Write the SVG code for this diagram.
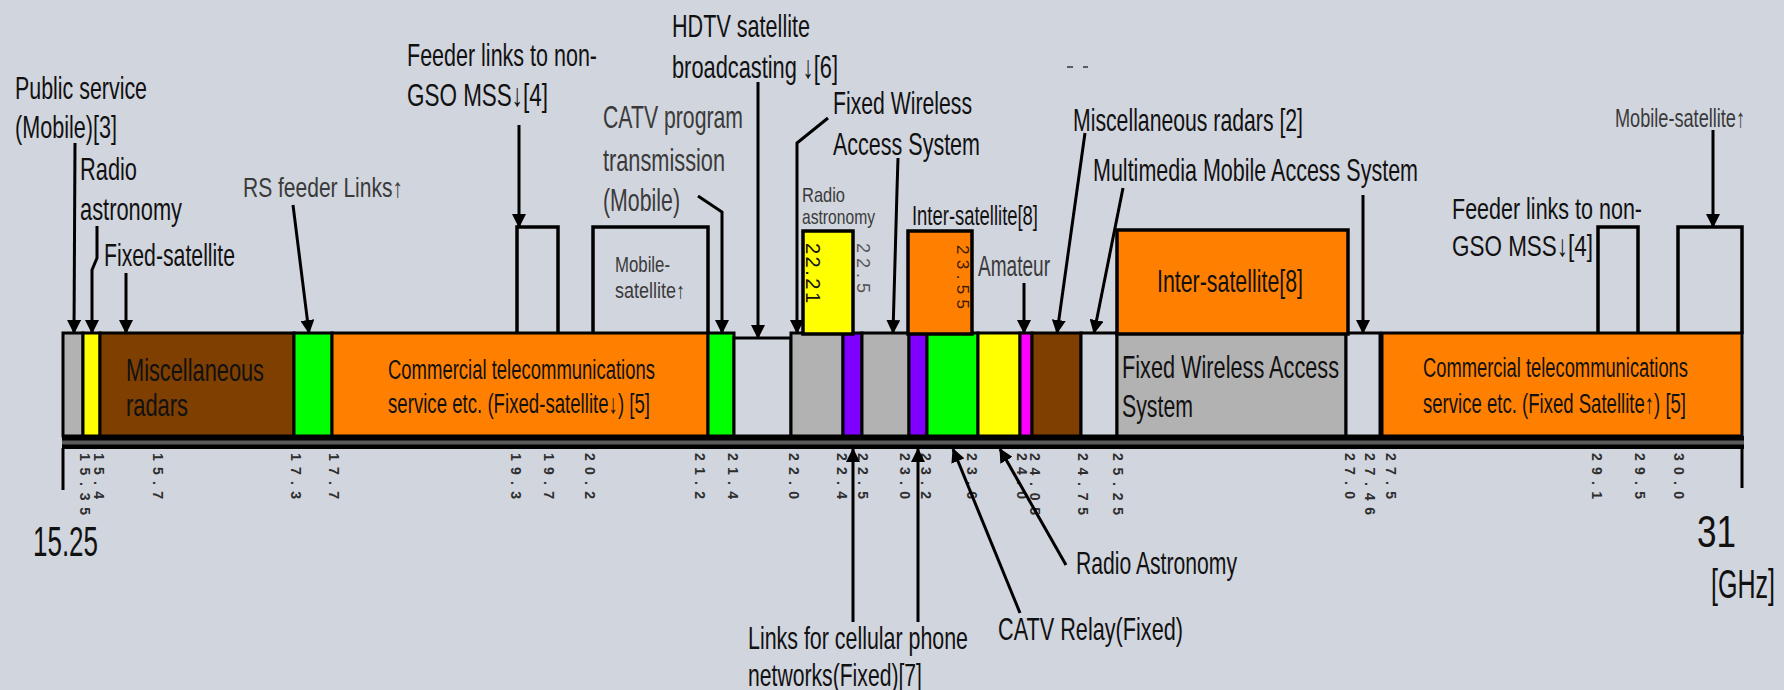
<svg xmlns="http://www.w3.org/2000/svg" width="1784" height="690" viewBox="0 0 1784 690">
  <style>
    text { font-family: 'Liberation Sans', Arial, sans-serif; fill: #111; }
    .l { font-size: 32px; }
    .m { font-size: 27px; }
    .s { font-size: 22px; }
    .g { fill: #3a3a3a; }
    .tick { font-size: 14px; font-weight: bold; fill: #2e2e2e; }
    .seg { stroke: #000; stroke-width: 3; }
    .box { fill: none; stroke: #000; stroke-width: 3.5; }
    .fbox { stroke: #000; stroke-width: 3.5; }
    .con { fill: none; stroke: #000; stroke-width: 3; }
    .arr { marker-end: url(#ah); }
  </style>
  <defs>
    <marker id="ah" viewBox="0 0 14 14" refX="13" refY="7" markerWidth="14" markerHeight="14" markerUnits="userSpaceOnUse" orient="auto">
      <path d="M0,0 L14,7 L0,14 z" fill="#000"/>
    </marker>
  </defs>

  <rect width="1784" height="690" fill="#D1D5DE"/>

  <!-- frequency band, 15.25 to 31 GHz -->
  <g id="band">
    <rect class="seg" x="63" y="333" width="20" height="103" fill="#B2B2B2"/>
    <rect class="seg" x="83" y="333" width="17" height="103" fill="#FFFF00"/>
    <rect class="seg" x="100" y="333" width="194" height="103" fill="#7F3F00"/>
    <rect class="seg" x="294" y="333" width="38" height="103" fill="#00FF00"/>
    <rect class="seg" x="332" y="333" width="376" height="103" fill="#FF8000"/>
    <rect class="seg" x="708" y="333" width="26" height="103" fill="#00FF00"/>
    <rect class="seg" x="734" y="338" width="57" height="98" fill="#D1D5DE"/>
    <rect class="seg" x="791" y="333" width="52" height="103" fill="#B2B2B2"/>
    <rect class="seg" x="843" y="333" width="19" height="103" fill="#7F00FF"/>
    <rect class="seg" x="862" y="333" width="47" height="103" fill="#B2B2B2"/>
    <rect class="seg" x="909" y="333" width="18" height="103" fill="#7F00FF"/>
    <rect class="seg" x="927" y="333" width="51" height="103" fill="#00FF00"/>
    <rect class="seg" x="978" y="333" width="42" height="103" fill="#FFFF00"/>
    <rect class="seg" x="1020" y="333" width="12" height="103" fill="#FF00FF"/>
    <rect class="seg" x="1032" y="333" width="49" height="103" fill="#7F3F00"/>
    <rect class="seg" x="1081" y="333" width="36" height="103" fill="#D1D5DE"/>
    <rect class="seg" x="1117" y="333" width="229" height="103" fill="#B2B2B2"/>
    <rect class="seg" x="1346" y="333" width="34" height="103" fill="#D1D5DE"/>
    <rect class="seg" x="1382" y="333" width="360" height="103" fill="#FF8000"/>
  </g>

  <!-- axis bar and end ticks -->
  <g id="axis">
    <rect x="62" y="436" width="1682" height="13" fill="#000"/>
    <rect x="62" y="440.5" width="1682" height="4" fill="#5A5A5A"/>
    <line x1="63" y1="448" x2="63" y2="490" stroke="#000" stroke-width="3"/>
    <line x1="1742" y1="448" x2="1742" y2="488" stroke="#000" stroke-width="3"/>
    <text transform="translate(33,556) scale(0.65,1)" style="font-size:42px" textLength="100" lengthAdjust="spacingAndGlyphs">15.25</text>
    <text transform="translate(1697,547) scale(0.8,1)" style="font-size:44px" textLength="48.75" lengthAdjust="spacingAndGlyphs">31</text>
    <text transform="translate(1711,598) scale(0.63,1)" style="font-size:40px" textLength="101.6" lengthAdjust="spacingAndGlyphs">[GHz]</text>
  </g>

  <!-- frequency tick labels -->
  <g id="ticks">
    <text class="tick" transform="translate(80,453) rotate(90)" textLength="62" lengthAdjust="spacing">15.35</text>
    <text class="tick" transform="translate(94,453) rotate(90)" textLength="46" lengthAdjust="spacing">15.4</text>
    <text class="tick" transform="translate(153,453) rotate(90)" textLength="46" lengthAdjust="spacing">15.7</text>
    <text class="tick" transform="translate(291,453) rotate(90)" textLength="46" lengthAdjust="spacing">17.3</text>
    <text class="tick" transform="translate(329,453) rotate(90)" textLength="46" lengthAdjust="spacing">17.7</text>
    <text class="tick" transform="translate(511,453) rotate(90)" textLength="46" lengthAdjust="spacing">19.3</text>
    <text class="tick" transform="translate(544,453) rotate(90)" textLength="46" lengthAdjust="spacing">19.7</text>
    <text class="tick" transform="translate(585,453) rotate(90)" textLength="46" lengthAdjust="spacing">20.2</text>
    <text class="tick" transform="translate(695,453) rotate(90)" textLength="46" lengthAdjust="spacing">21.2</text>
    <text class="tick" transform="translate(728,453) rotate(90)" textLength="46" lengthAdjust="spacing">21.4</text>
    <text class="tick" transform="translate(789,453) rotate(90)" textLength="46" lengthAdjust="spacing">22.0</text>
    <text class="tick" transform="translate(837,453) rotate(90)" textLength="46" lengthAdjust="spacing">22.4</text>
    <text class="tick" transform="translate(858,453) rotate(90)" textLength="46" lengthAdjust="spacing">22.5</text>
    <text class="tick" transform="translate(900,453) rotate(90)" textLength="46" lengthAdjust="spacing">23.0</text>
    <text class="tick" transform="translate(921,453) rotate(90)" textLength="46" lengthAdjust="spacing">23.2</text>
    <text class="tick" transform="translate(967,453) rotate(90)" textLength="46" lengthAdjust="spacing">23.6</text>
    <text class="tick" transform="translate(1017,453) rotate(90)" textLength="46" lengthAdjust="spacing">24.0</text>
    <text class="tick" transform="translate(1030,453) rotate(90)" textLength="62" lengthAdjust="spacing">24.05</text>
    <text class="tick" transform="translate(1078,453) rotate(90)" textLength="62" lengthAdjust="spacing">24.75</text>
    <text class="tick" transform="translate(1113,453) rotate(90)" textLength="62" lengthAdjust="spacing">25.25</text>
    <text class="tick" transform="translate(1345,453) rotate(90)" textLength="46" lengthAdjust="spacing">27.0</text>
    <text class="tick" transform="translate(1365,453) rotate(90)" textLength="62" lengthAdjust="spacing">27.46</text>
    <text class="tick" transform="translate(1386,453) rotate(90)" textLength="46" lengthAdjust="spacing">27.5</text>
    <text class="tick" transform="translate(1592,453) rotate(90)" textLength="46" lengthAdjust="spacing">29.1</text>
    <text class="tick" transform="translate(1635,453) rotate(90)" textLength="46" lengthAdjust="spacing">29.5</text>
    <text class="tick" transform="translate(1674,453) rotate(90)" textLength="46" lengthAdjust="spacing">30.0</text>
  </g>

  <!-- allocations shown inside the band -->
  <g id="misc-radars">
    <text class="l" x="126" y="381" textLength="138" lengthAdjust="spacingAndGlyphs">Miscellaneous</text>
    <text class="l" x="126" y="416" textLength="62" lengthAdjust="spacingAndGlyphs">radars</text>
  </g>
  <g id="commercial-down">
    <text class="m" x="388" y="379" textLength="267" lengthAdjust="spacingAndGlyphs">Commercial telecommunications</text>
    <text class="m" x="388" y="413" textLength="262" lengthAdjust="spacingAndGlyphs">service etc. (Fixed-satellite↓) [5]</text>
  </g>
  <g id="fwa">
    <text class="l" x="1122" y="378" textLength="217" lengthAdjust="spacingAndGlyphs">Fixed Wireless Access</text>
    <text class="l" x="1122" y="417" textLength="71" lengthAdjust="spacingAndGlyphs">System</text>
  </g>
  <g id="commercial-up">
    <text class="m" transform="translate(1423,377) scale(0.68,1)" textLength="389.7" lengthAdjust="spacingAndGlyphs">Commercial telecommunications</text>
    <text class="m" transform="translate(1423,413) scale(0.69,1)" textLength="381.2" lengthAdjust="spacingAndGlyphs">service etc. (Fixed Satellite↑) [5]</text>
  </g>

  <!-- raised sub-bands -->
  <g id="feeder-left">
    <path class="box" d="M517,334 V227 H558 V334"/>
  </g>
  <g id="mobile-sat-left">
    <path class="box" d="M593,334 V227 H708 V334"/>
    <text class="s g" x="615" y="272" textLength="55" lengthAdjust="spacingAndGlyphs">Mobile-</text>
    <text class="s g" x="615" y="298" textLength="70" lengthAdjust="spacingAndGlyphs">satellite↑</text>
  </g>
  <g id="radio-astronomy-box">
    <rect class="fbox" x="803" y="231" width="50" height="103" fill="#FFFF00"/>
    <text transform="translate(806,243) rotate(90)" style="font-size:20px" fill="#222" textLength="60" lengthAdjust="spacing">22.21</text>
    <text transform="translate(857,243) rotate(90)" style="font-size:18px;fill:#555" textLength="50" lengthAdjust="spacing">22.5</text>
    <text x="802" y="202" style="font-size:21px" class="g" textLength="43" lengthAdjust="spacingAndGlyphs">Radio</text>
    <text x="802" y="224" style="font-size:21px" class="g" textLength="73" lengthAdjust="spacingAndGlyphs">astronomy</text>
  </g>
  <g id="inter-sat-small">
    <rect class="fbox" x="908" y="231" width="64" height="103" fill="#FF8000"/>
    <text transform="translate(957,245) rotate(90)" style="font-size:17px;fill:#3A1A00" textLength="64" lengthAdjust="spacing">23.55</text>
    <text x="912" y="225" style="font-size:27px" textLength="126" lengthAdjust="spacingAndGlyphs">Inter-satellite[8]</text>
  </g>
  <g id="inter-sat-big">
    <rect class="fbox" x="1117" y="230" width="231" height="104" fill="#FF8000"/>
    <text class="l" x="1157" y="292" textLength="146" lengthAdjust="spacingAndGlyphs">Inter-satellite[8]</text>
  </g>
  <g id="feeder-right">
    <path class="box" d="M1598,334 V227 H1638 V334"/>
    <text class="l" x="1452" y="219" style="font-size:30px" textLength="190" lengthAdjust="spacingAndGlyphs">Feeder links to non-</text>
    <text class="l" x="1452" y="256" style="font-size:30px" textLength="141" lengthAdjust="spacingAndGlyphs">GSO MSS↓[4]</text>
  </g>
  <g id="mobile-sat-right">
    <path class="box" d="M1678,334 V227 H1742 V334"/>
    <text transform="translate(1615,127) scale(0.68,1)" style="font-size:26px" class="g" textLength="191.2" lengthAdjust="spacingAndGlyphs">Mobile-satellite↑</text>
  </g>

  <!-- labels above the band -->
  <g id="public-service">
    <text class="l" x="15" y="99" textLength="132" lengthAdjust="spacingAndGlyphs">Public service</text>
    <text class="l" x="15" y="138" textLength="102" lengthAdjust="spacingAndGlyphs">(Mobile)[3]</text>
  </g>
  <g id="radio-astronomy-low">
    <text class="l" x="80" y="180" textLength="57" lengthAdjust="spacingAndGlyphs">Radio</text>
    <text class="l" x="80" y="220" textLength="102" lengthAdjust="spacingAndGlyphs">astronomy</text>
  </g>
  <g id="fixed-satellite">
    <text class="l" x="104" y="266" textLength="131" lengthAdjust="spacingAndGlyphs">Fixed-satellite</text>
  </g>
  <g id="rs-feeder">
    <text x="243" y="197" style="font-size:27px" class="g" textLength="160" lengthAdjust="spacingAndGlyphs">RS feeder Links↑</text>
  </g>
  <g id="feeder-left-label">
    <text class="l" x="407" y="66" textLength="190" lengthAdjust="spacingAndGlyphs">Feeder links to non-</text>
    <text class="l" x="407" y="106" textLength="141" lengthAdjust="spacingAndGlyphs">GSO MSS↓[4]</text>
  </g>
  <g id="hdtv">
    <text class="l" x="672" y="37" textLength="138" lengthAdjust="spacingAndGlyphs">HDTV satellite</text>
    <text class="l" x="672" y="78" textLength="166" lengthAdjust="spacingAndGlyphs">broadcasting ↓[6]</text>
  </g>
  <g id="catv-program">
    <text class="l g" x="603" y="128" textLength="140" lengthAdjust="spacingAndGlyphs">CATV program</text>
    <text class="l g" x="603" y="171" textLength="122" lengthAdjust="spacingAndGlyphs">transmission</text>
    <text class="l g" x="603" y="211" textLength="77" lengthAdjust="spacingAndGlyphs">(Mobile)</text>
  </g>
  <g id="fwa-label">
    <text class="l" x="833" y="114" textLength="139" lengthAdjust="spacingAndGlyphs">Fixed Wireless</text>
    <text class="l" x="833" y="155" textLength="147" lengthAdjust="spacingAndGlyphs">Access System</text>
  </g>
  <g id="misc-radars-label">
    <text class="l" x="1073" y="131" textLength="230" lengthAdjust="spacingAndGlyphs">Miscellaneous radars [2]</text>
    <line x1="1067" y1="67" x2="1073" y2="67" stroke="#333" stroke-width="1.5"/>
    <line x1="1083" y1="67" x2="1088" y2="67" stroke="#333" stroke-width="1.5"/>
  </g>
  <g id="mmac-label">
    <text class="l" x="1093" y="181" textLength="325" lengthAdjust="spacingAndGlyphs">Multimedia Mobile Access System</text>
  </g>
  <g id="amateur">
    <text x="978" y="276" style="font-size:30px" class="g" textLength="72" lengthAdjust="spacingAndGlyphs">Amateur</text>
  </g>

  <!-- labels below the axis -->
  <g id="radio-astronomy-high">
    <text class="l" x="1076" y="574" textLength="161" lengthAdjust="spacingAndGlyphs">Radio Astronomy</text>
  </g>
  <g id="catv-relay">
    <text class="l" x="998" y="640" textLength="185" lengthAdjust="spacingAndGlyphs">CATV Relay(Fixed)</text>
  </g>
  <g id="cellular-links">
    <text class="l" transform="translate(748,649) scale(0.67,1)" textLength="328.4" lengthAdjust="spacingAndGlyphs">Links for cellular phone</text>
    <text class="l" x="748" y="686" textLength="174" lengthAdjust="spacingAndGlyphs">networks(Fixed)[7]</text>
  </g>

  <!-- leader lines -->
  <g id="connectors">
    <polyline class="con arr" points="75,143 74,333"/>
    <polyline class="con arr" points="97,226 97,258 92,270 92,333"/>
    <polyline class="con arr" points="126,273 126,333"/>
    <polyline class="con arr" points="293,205 309,333"/>
    <polyline class="con arr" points="519,125 519,227"/>
    <polyline class="con arr" points="698,196 722,212 722,333"/>
    <polyline class="con arr" points="758,82 758,338"/>
    <polyline class="con arr" points="828,118 797,143 797,333"/>
    <polyline class="con arr" points="898,158 897,190 893,333"/>
    <polyline class="con arr" points="1024,283 1024,333"/>
    <polyline class="con arr" points="1085,133 1057,333"/>
    <polyline class="con arr" points="1123,188 1094,333"/>
    <polyline class="con arr" points="1363,195 1363,333"/>
    <polyline class="con arr" points="1713,130 1713,227"/>
    <polyline class="con arr" points="853,622 853,449"/>
    <polyline class="con arr" points="918,622 918,449"/>
    <polyline class="con arr" points="1020,613 953,449"/>
    <polyline class="con arr" points="1066,565 1000,449"/>
  </g>
</svg>
